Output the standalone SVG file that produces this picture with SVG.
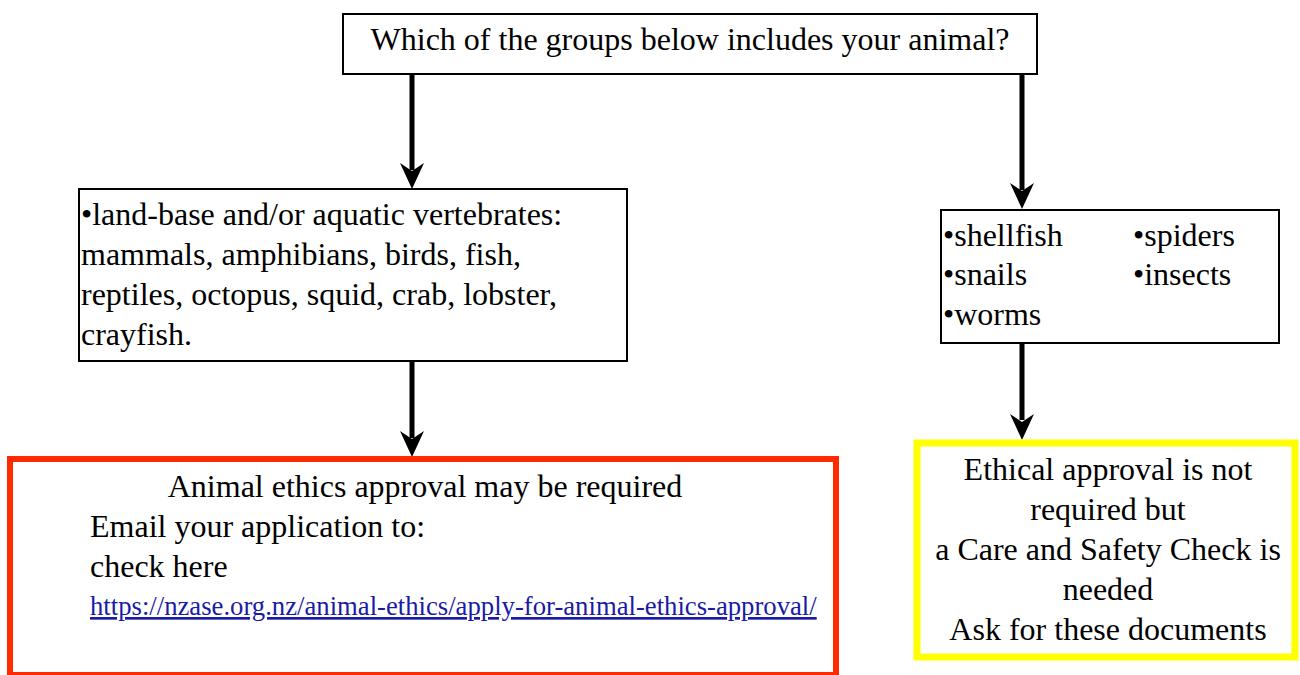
<svg xmlns="http://www.w3.org/2000/svg" width="1300" height="675" viewBox="0 0 1300 675">
<style>
text{font-family:"Liberation Serif","Times New Roman",serif;font-size:32px;fill:#000}
.box{fill:#fff;stroke:#000;stroke-width:2}
.conn{stroke:#000;stroke-width:5;fill:none}
.head{fill:#000}
.c{text-anchor:middle}
.link{font-size:26.7px;fill:#1a1aa6;text-decoration:underline}
</style>
<rect width="1300" height="675" fill="#fff"/>
<g id="connectors">
<path class="conn" d="M412,74 V170"/>
<path class="head" d="M412,189 L400,163 L412,171 L424,163 Z"/>
<path class="conn" d="M1022,74 V190"/>
<path class="head" d="M1022,209 L1010,183 L1022,191 L1034,183 Z"/>
<path class="conn" d="M412,362 V438"/>
<path class="head" d="M412,457 L400,431 L412,439 L424,431 Z"/>
<path class="conn" d="M1022,343 V420"/>
<path class="head" d="M1022,440 L1010,414 L1022,422 L1034,414 Z"/>
</g>
<g id="question">
<rect class="box" x="343" y="14" width="694" height="60"/>
<text class="c" x="690" y="50">Which of the groups below includes your animal?</text>
</g>
<g id="vertebrates">
<rect class="box" x="79" y="189" width="548" height="172"/>
<text x="81" y="225">•land-base and/or aquatic vertebrates:</text>
<text x="81" y="265">mammals, amphibians, birds, fish,</text>
<text x="81" y="305">reptiles, octopus, squid, crab, lobster,</text>
<text x="81" y="345">crayfish.</text>
</g>
<g id="invertebrates">
<rect class="box" x="941" y="210" width="338" height="133"/>
<text x="943" y="246">•shellfish</text>
<text x="1133" y="246">•spiders</text>
<text x="943" y="285">•snails</text>
<text x="1133" y="285">•insects</text>
<text x="943" y="325">•worms</text>
</g>
<g id="ethics-required">
<rect x="10" y="459" width="826" height="216" fill="#fff" stroke="#ff2a00" stroke-width="6"/>
<text class="c" x="425" y="497">Animal ethics approval may be required</text>
<text x="90" y="537">Email your application to:</text>
<text x="90" y="577">check here</text>
<text class="link" x="90" y="615">https://nzase.org.nz/animal-ethics/apply-for-animal-ethics-approval/</text>
</g>
<g id="care-check">
<rect x="917" y="443" width="378" height="214" fill="#fff" stroke="#ffff00" stroke-width="7"/>
<text class="c" x="1108" y="480">Ethical approval is not</text>
<text class="c" x="1108" y="520">required but</text>
<text class="c" x="1108" y="560">a Care and Safety Check is</text>
<text class="c" x="1108" y="600">needed</text>
<text class="c" x="1108" y="640">Ask for these documents</text>
</g>
</svg>
